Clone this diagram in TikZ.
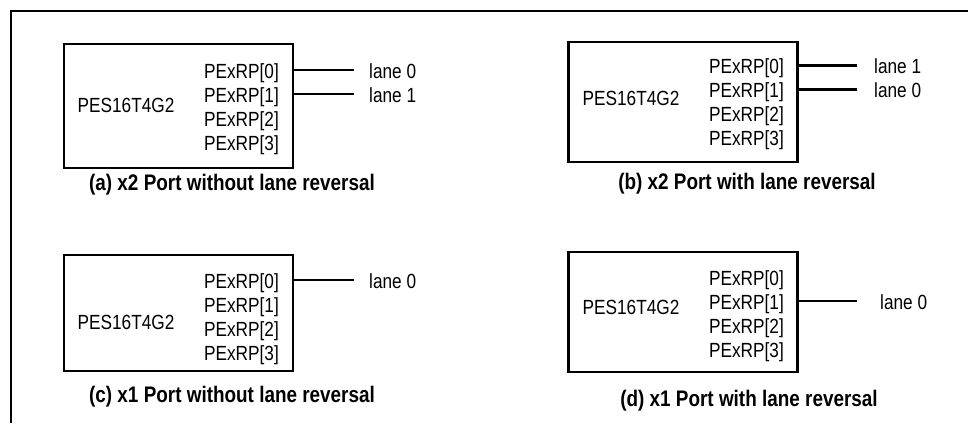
\documentclass[tikz,border=0pt]{standalone}
\usepackage{fontspec}
\setmainfont{Liberation Sans}[FakeStretch=0.84]
\begin{document}
\begin{tikzpicture}
  [x=1pt, y=-1pt,
   frame/.style={line width=2.8pt},
   chip/.style={draw, line width=2.8pt, minimum width=229pt, inner sep=0pt},
   txt/.style={inner sep=0pt, font=\fontsize{20.5}{24}\selectfont},
   pin/.style={txt, anchor=base east},
   lane/.style={txt, anchor=base west},
   wire/.style={line width=2.4pt},
   caption/.style={inner sep=0pt, anchor=base, font=\fontsize{22.5}{26}\selectfont\bfseries}]

  \useasboundingbox (0,0) rectangle (968,423);

  % frame round the figure
  \draw[frame] (11,423) -- (11,11) -- (968,11);

  % (a) x2 port, no lane reversal
  \node[chip, minimum height=124pt] (A) at (178.5,106) {};
  \node[txt, anchor=base] (An) at (126,112) {PES16T4G2};
  \node[pin] (Ap0) at (279,78) {PExRP[0]};
  \node[pin] (Ap1) at (279,102) {PExRP[1]};
  \node[pin] (Ap2) at (279,126) {PExRP[2]};
  \node[pin] (Ap3) at (279,150) {PExRP[3]};
  \coordinate (Aw0) at (354,70);
  \coordinate (Aw1) at (354,94);
  \draw[wire] (A.east |- Aw0) -- (Aw0);
  \draw[wire] (A.east |- Aw1) -- (Aw1);
  \node[lane] (Al0) at (369,78) {lane 0};
  \node[lane] (Al1) at (369,102) {lane 1};
  \node[caption] (Acap) at (232,190) {(a) x2 Port without lane reversal};

  % (b) x2 port, lane reversal
  \node[chip, minimum height=120pt] (B) at (683,102) {};
  \node[txt, anchor=base] (Bn) at (631,105) {PES16T4G2};
  \node[pin] (Bp0) at (784,73.5) {PExRP[0]};
  \node[pin] (Bp1) at (784,97.5) {PExRP[1]};
  \node[pin] (Bp2) at (784,121.5) {PExRP[2]};
  \node[pin] (Bp3) at (784,145.5) {PExRP[3]};
  \coordinate (Bw0) at (857,65.5);
  \coordinate (Bw1) at (857,89.5);
  \draw[wire] (B.east |- Bw0) -- (Bw0);
  \draw[wire] (B.east |- Bw1) -- (Bw1);
  \node[lane] (Bl0) at (874,73.5) {lane 1};
  \node[lane] (Bl1) at (874,97.5) {lane 0};
  \node[caption] (Bcap) at (747,189) {(b) x2 Port with lane reversal};

  % (c) x1 port, no lane reversal
  \node[chip, minimum height=116pt] (C) at (178.5,313) {};
  \node[txt, anchor=base] (Cn) at (126,329) {PES16T4G2};
  \node[pin] (Cp0) at (279,288) {PExRP[0]};
  \node[pin] (Cp1) at (279,312) {PExRP[1]};
  \node[pin] (Cp2) at (279,336) {PExRP[2]};
  \node[pin] (Cp3) at (279,360) {PExRP[3]};
  \coordinate (Cw0) at (354,280);
  \draw[wire] (C.east |- Cw0) -- (Cw0);
  \node[lane] (Cl0) at (369,288) {lane 0};
  \node[caption] (Ccap) at (232,402) {(c) x1 Port without lane reversal};

  % (d) x1 port, lane reversal
  \node[chip, minimum height=120pt] (D) at (683,312) {};
  \node[txt, anchor=base] (Dn) at (631,314) {PES16T4G2};
  \node[pin] (Dp0) at (784,285) {PExRP[0]};
  \node[pin] (Dp1) at (784,309) {PExRP[1]};
  \node[pin] (Dp2) at (784,333) {PExRP[2]};
  \node[pin] (Dp3) at (784,357) {PExRP[3]};
  \coordinate (Dw0) at (857,301);
  \draw[wire] (D.east |- Dw0) -- (Dw0);
  \node[lane] (Dl0) at (880,309) {lane 0};
  \node[caption] (Dcap) at (749,406) {(d) x1 Port with lane reversal};

\end{tikzpicture}
\end{document}
